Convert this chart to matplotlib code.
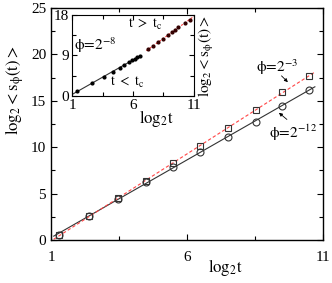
import numpy as np
import matplotlib
matplotlib.use('Agg')
import matplotlib.pyplot as plt

plt.rcParams['font.family'] = 'Liberation Serif'
plt.rcParams['mathtext.fontset'] = 'stix'

# main panel: phi = 2^-12 (circles) and phi = 2^-3 (squares)
log2t = [1.31, 2.40, 3.45, 4.48, 5.49, 6.48, 7.50, 8.53, 9.49, 10.49]
s_m12 = [0.54, 2.62, 4.45, 6.22, 7.90, 9.45, 11.13, 12.75, 14.44, 16.16]
s_m3 = [0.50, 2.55, 4.50, 6.40, 8.26, 10.16, 12.03, 14.00, 15.98, 17.67]
fit_range = [1.1, 10.7]

# inset: phi = 2^-8, before and after t_c
in_x_lo = [1.4, 2.6, 3.6, 4.4, 4.9, 5.3, 5.7, 5.95, 6.15, 6.35, 6.55]
in_y_lo = [1.0, 2.8, 4.3, 5.4, 6.3, 6.9, 7.5, 7.9, 8.3, 8.6, 8.9]
in_x_hi = [7.26, 7.66, 8.07, 8.48, 8.89, 9.17, 9.43, 9.70, 10.25, 10.67]
in_y_hi = [10.4, 11.2, 11.9, 12.6, 13.6, 14.2, 14.7, 15.3, 16.3, 16.9]
in_line_lo = [1.1, 6.6]
in_line_hi = [7.1, 11.0]

fig = plt.figure(figsize=(3.32, 2.83), dpi=100)
ax = fig.add_axes([0.1536, 0.152, 0.8194, 0.8197])

p12 = np.polyfit(log2t, s_m12, 1)
p3 = np.polyfit(log2t, s_m3, 1)
xf = np.array(fit_range)
ax.plot(xf, np.polyval(p12, xf), '-', color='#333333', lw=0.8)
ax.plot(xf, np.polyval(p3, xf), '--', color='#ff4444', lw=0.8, dashes=(3, 2))
ax.plot(log2t, s_m12, 'o', mfc='none', mec='#333333', ms=5, mew=0.8)
ax.plot(log2t, s_m3, 's', mfc='none', mec='#333333', ms=4.5, mew=0.8)

ax.set_xlim(1, 11)
ax.set_ylim(0, 25)
ax.set_xticks([1, 6, 11])
ax.set_xticks([3.5, 8.5], minor=True)
ax.set_yticks([0, 5, 10, 15, 20, 25])
ax.set_yticks([2.5, 7.5, 12.5, 17.5, 22.5], minor=True)
ax.tick_params(which='both', direction='in', top=True, right=True, labelsize=11, width=0.8)
ax.tick_params(axis='x', which='major', pad=8)
ax.tick_params(which='major', length=4)
ax.tick_params(which='minor', length=3)
for s in ax.spines.values():
    s.set_linewidth(1.0)

fig.text(0.68, 0.055, r'$\mathrm{log_2t}$', ha='center', va='center', fontsize=12)
fig.text(0.045, 0.68, r'$\mathrm{log_2 <s_{\phi}(t)>}$', ha='center', va='center',
         rotation=90, fontsize=12)

ax.text(9.31, 18.6, r'$\mathrm{\phi\!=\!2^{-3}}$', ha='center', va='center', fontsize=11)
ax.annotate('', xy=(9.78, 16.8), xytext=(9.40, 17.9),
            arrowprops=dict(arrowstyle='-|>', color='k', lw=0.6, mutation_scale=5))
ax.text(9.9, 11.5, r'$\mathrm{\phi\!=\!2^{-12}}$', ha='center', va='center', fontsize=11)
ax.annotate('', xy=(9.30, 13.9), xytext=(9.75, 12.8),
            arrowprops=dict(arrowstyle='-|>', color='k', lw=0.6, mutation_scale=5))

# inset
axi = fig.add_axes([0.2169, 0.661, 0.3674, 0.286])
axi.plot(in_line_lo, np.polyval(np.polyfit(in_x_lo, in_y_lo, 1), in_line_lo), '-', color='#333333', lw=0.8)
axi.plot(in_line_hi, np.polyval(np.polyfit(in_x_hi, in_y_hi, 1), in_line_hi), '--', color='#ff4444',
         lw=0.8, dashes=(2, 1.5))
axi.plot(in_x_lo, in_y_lo, 'o', color='k', ms=2)
axi.plot(in_x_hi, in_y_hi, 'o', color='#330000', ms=2)
axi.set_xlim(1, 11)
axi.set_ylim(0, 18)
axi.set_xticks([1, 6, 11])
axi.set_xticks([3.5, 8.5], minor=True)
axi.set_yticks([0, 9, 18])
axi.set_yticks([4.5, 13.5], minor=True)
axi.tick_params(which='both', direction='in', top=True, right=True, labelsize=11, width=0.8, pad=2)
axi.tick_params(which='major', length=3.5)
axi.tick_params(which='minor', length=3)
axi.set_xlabel(r'$\mathrm{log_2t}$', fontsize=12)
axi.xaxis.set_label_coords(0.69, -0.15)
axi.yaxis.set_label_position('right')
axi.set_ylabel(r'$\mathrm{log_2 <s_{\phi}(t)>}$', fontsize=11, rotation=90, labelpad=2)
axi.text(2.9, 11.3, r'$\mathrm{\phi\!=\!2^{-8}}$', ha='center', va='center', fontsize=11)
axi.text(7.0, 15.8, r'$\mathrm{t\ >\ t_c}$', ha='center', va='center', fontsize=10)
axi.text(5.5, 3.1, r'$\mathrm{t\ <\ t_c}$', ha='center', va='center', fontsize=10)

fig.savefig('out.png', dpi=100)
